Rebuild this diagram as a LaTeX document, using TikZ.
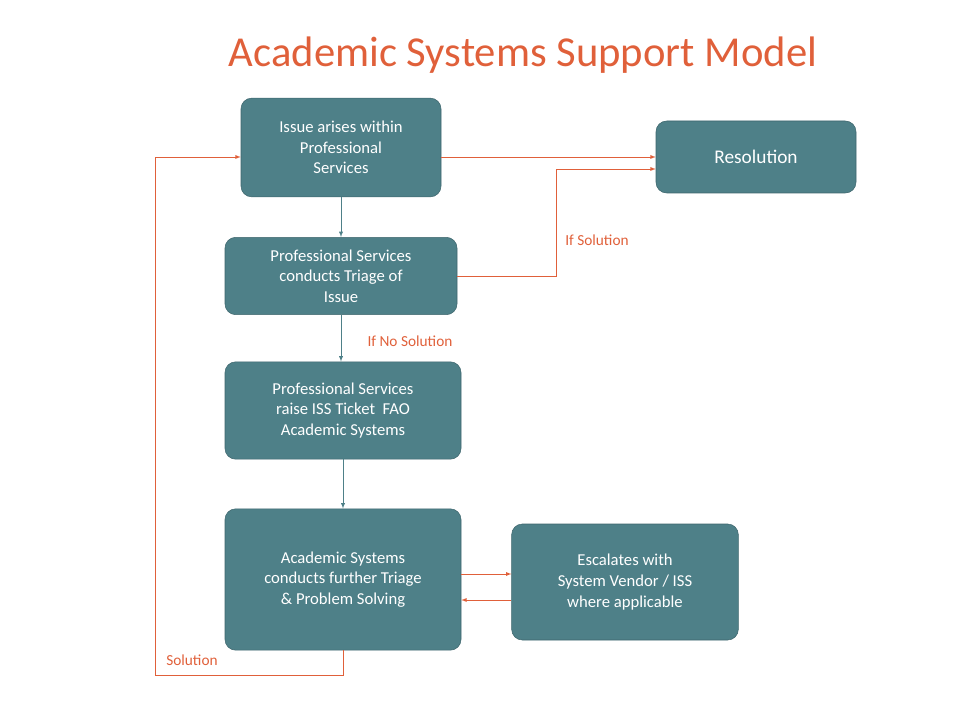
\documentclass[tikz,border=0pt]{standalone}
\usepackage{fontspec}
\setmainfont{Carlito}
\usetikzlibrary{positioning}
\definecolor{teal1}{HTML}{4E8088}
\definecolor{orng}{HTML}{E0603A}

\begin{document}
\begin{tikzpicture}[x=0.75pt,y=-0.75pt,box/.style={draw=teal1!80!black,fill=teal1,rounded corners=8pt,text=white,align=center,font=\fontsize{12.5}{15.5}\selectfont,inner sep=0pt},flow/.style={draw=teal1,-latex},link/.style={draw=orng,-latex},lbl/.style={text=orng,font=\fontsize{11.5}{14}\selectfont}]
\useasboundingbox (0,0) rectangle (960,720);
\node[text=orng,font=\fontsize{32}{38}\selectfont] (title) at (523,55) {Academic Systems Support Model};
\node[box,minimum width=150pt,minimum height=74pt] (issue) at (341,147.5) {Issue arises within\\Professional\\Services};
\node[box,minimum width=150pt,minimum height=54pt] (res) at (756,157) {\fontsize{14.5}{17}\selectfont Resolution};
\node[box,minimum width=174pt,minimum height=58pt] (triage) at (341,276) {Professional Services\\conducts Triage of\\Issue};
\node[box,minimum width=177pt,minimum height=73pt] (ticket) at (343,410.5) {Professional Services\\raise ISS Ticket\ \ FAO\\Academic Systems};
\node[box,minimum width=177pt,minimum height=106pt] (acad) at (343,579.5) {Academic Systems\\conducts further Triage\\\& Problem Solving};
\node[box,minimum width=170pt,minimum height=87pt] (esc) at (625,582) {Escalates with\\System Vendor / ISS\\where applicable};

\draw[flow] (issue) -- (triage);
\draw[flow] (triage) -- (triage|-ticket.north);
\draw[flow] (ticket) -- (acad);
\draw[link] (issue.east|-res) -- (res);
\draw[link] (triage.east) -- (556,276) |- (res.west|-0,169);
\draw[link] (acad.east|-0,574) -- (esc.west|-0,574);
\draw[link] (esc.west|-0,600) -- (acad.east|-0,600);
\coordinate (loop) at (155,675);
\draw[link] (acad.south) -- (acad.south|-loop) -- (loop) |- (issue.west|-0,157);
% labels
\node[lbl] (ifsol) at (597,240) {If Solution};
\node[lbl] (ifno) at (410,341) {If No Solution};
\node[lbl] (sol) at (192,660) {Solution};
\end{tikzpicture}
\end{document}
